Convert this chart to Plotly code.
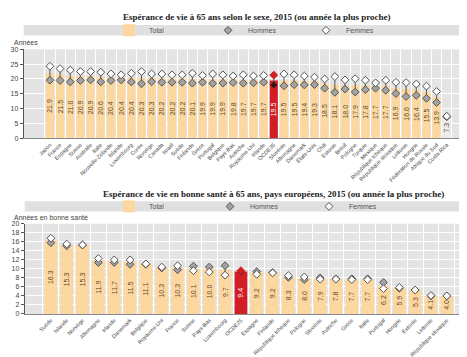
import plotly.graph_objects as go

# ---------- Data: chart 1 ----------
cats1 = ["Japon", "France", "Espagne", "Suisse", "Australie", "Italie", "Nouvelle-Zélande",
         "Islande", "Luxembourg", "Corée", "Norvège", "Canada", "Israël", "Suède", "Finlande",
         "Grèce", "Portugal", "Belgique", "Pays-Bas", "Autriche", "Royaume-Uni", "Irlande",
         "OCDE35", "Slovénie", "Allemagne", "Danemark", "États-Unis", "Chili", "Estonie",
         "Brésil", "Pologne", "Turquie", "Mexique", "République tchèque",
         "République slovaque", "Lettonie", "Hongrie", "Fédération de Russie",
         "Afrique du Sud", "Costa Rica"]
total1 = [21.9, 21.5, 21.0, 20.9, 20.9, 20.6, 20.4, 20.4, 20.4, 20.3, 20.3, 20.2, 20.2, 20.2,
          20.1, 19.9, 19.9, 19.9, 19.8, 19.7, 19.7, 19.7, 19.5, 19.5, 19.5, 19.4, 19.3, 18.5,
          18.1, 18.0, 17.9, 17.8, 17.7, 17.7, 16.9, 16.6, 16.4, 15.5, 13.9, 7.3]
men1 = [19.6, 19.5, 19.0, 19.5, 19.7, 19.0, 19.5, 19.7, 19.0, 18.4, 19.1, 18.9, 18.9, 18.9,
        18.6, 18.9, 18.5, 18.6, 18.8, 18.6, 18.7, 18.9, 18.0, 17.7, 18.1, 18.0, 18.1, 16.9,
        15.5, 16.6, 15.6, 16.4, 16.9, 16.2, 15.1, 14.1, 14.5, 13.5, 12.1, 7.3]
women1 = [24.3, 23.5, 23.0, 22.5, 22.5, 22.3, 21.7, 21.4, 21.9, 22.5, 21.7, 21.7, 21.4, 21.4,
          21.9, 21.2, 21.7, 21.4, 21.0, 21.4, 21.0, 21.2, 21.3, 21.7, 21.4, 21.0, 20.6, 20.0,
          20.8, 19.7, 20.1, 19.6, 18.7, 19.6, 18.9, 18.8, 18.3, 17.6, 15.8, 7.5]
yticks1 = [0, 5, 10, 15, 20, 25, 30]

# ---------- Data: chart 2 ----------
cats2 = ["Suède", "Islande", "Norvège", "Allemagne", "Irlande", "Danemark", "Belgique",
         "Royaume-Uni", "France", "Suisse", "Pays-Bas", "Luxembourg", "OCDE25", "Espagne",
         "Finlande", "République tchèque", "Pologne", "Slovénie", "Autriche", "Grèce",
         "Italie", "Portugal", "Hongrie", "Estonie", "Lettonie", "République slovaque"]
total2 = [16.3, 15.3, 15.3, 11.9, 11.7, 11.5, 11.1, 10.3, 10.3, 10.1, 10.0, 9.7, 9.4, 9.2,
          9.2, 8.3, 8.0, 7.9, 7.8, 7.7, 7.7, 6.2, 5.9, 5.3, 4.1, 4.0]
men2 = [15.8, 15.1, 15.3, 11.4, 11.4, 11.0, 11.0, 10.2, 9.8, 10.6, 10.4, 10.7, 9.3, 9.4,
        9.2, 8.1, 7.6, 8.0, 7.8, 7.8, 7.8, 7.0, 5.7, 5.3, 4.0, 4.0]
women2 = [16.8, 15.5, 15.3, 12.3, 12.0, 12.0, 11.1, 10.4, 10.7, 9.6, 9.3, 8.6, 9.6, 8.8,
          9.1, 8.5, 8.2, 7.7, 7.7, 7.6, 7.6, 5.6, 5.9, 5.3, 4.1, 4.0]
yticks2 = [0, 2, 4, 6, 8, 10, 12, 14, 16, 18, 20]

# ---------- Style ----------
W, H = 467, 357
BAR = "#fcd8a0"
RED = "#d21f26"
PLOT_BG = "#e4e4e4"
BAND = "#e0e0e0"
TXT = "#5a4a2e"
TICK = "#444444"
SANS = "Liberation Sans Narrow, Arial Narrow, Liberation Sans, sans-serif"
SERIF = "Liberation Serif, DejaVu Serif, serif"


def py(px):
    return 1 - px / H


def px_x(px):
    return px / W


fig = go.Figure()


def add_chart(cats, total, men, women, xa, ya, legs, oecd):
    bar_colors = [RED if c == oecd else ("#ececec" if c == "Costa Rica" else BAR) for c in cats]
    txt_colors = ["white" if c == oecd else TXT for c in cats]
    fig.add_trace(go.Bar(
        x=cats, y=total, name="Total", marker=dict(color=bar_colors, line=dict(width=0)),
        text=[f"{v:.1f}" for v in total], textposition="inside", textangle=-90,
        insidetextanchor="middle", constraintext="none",
        textfont=dict(size=7, color=txt_colors, family=SANS),
        xaxis=xa, yaxis=ya, legend=legs[0], showlegend=True, hoverinfo="x+y"))
    # connectors between men and women values
    lx, ly = [], []
    for c, m, f in zip(cats, men, women):
        lx += [c, c, None]
        ly += [m, f, None]
    fig.add_trace(go.Scatter(x=lx, y=ly, mode="lines", line=dict(color="#555555", width=1),
                             xaxis=xa, yaxis=ya, showlegend=False, hoverinfo="skip"))
    men_col = ["#a3a3a3" if c != oecd else "#2a1a1a" for c in cats]
    men_line = [RED if c == oecd else "#555555" for c in cats]
    wom_col = [RED if c == oecd else "white" for c in cats]
    wom_line = [RED if c == oecd else "#555555" for c in cats]
    fig.add_trace(go.Scatter(
        x=cats, y=men, mode="markers", name="Hommes",
        marker=dict(symbol="diamond", size=6, color=men_col, line=dict(color=men_line, width=1)),
        xaxis=xa, yaxis=ya, legend=legs[1]))
    fig.add_trace(go.Scatter(
        x=cats, y=women, mode="markers", name="Femmes",
        marker=dict(symbol="diamond", size=6, color=wom_col, line=dict(color=wom_line, width=1)),
        xaxis=xa, yaxis=ya, legend=legs[2]))


add_chart(cats1, total1, men1, women1, "x", "y", ["legend", "legend2", "legend3"], "OCDE35")
add_chart(cats2, total2, men2, women2, "x2", "y2", ["legend4", "legend5", "legend6"], "OCDE25")

xcommon = dict(type="category", tickangle=-45, tickfont=dict(size=5.5, color=TICK, family=SANS),
               showgrid=True, gridcolor="white", gridwidth=1, tickson="boundaries",
               ticks="", showline=True, linecolor="#888888", linewidth=1, fixedrange=True)
ycommon = dict(tickfont=dict(size=7, color=TICK, family=SANS), showgrid=True,
               gridcolor="white", gridwidth=1, zeroline=False, showline=True,
               linecolor="#555555", linewidth=1, ticks="outside", ticklen=3,
               tickcolor="#555555", fixedrange=True)

legcommon = dict(orientation="h", xanchor="left", yanchor="middle", bgcolor="rgba(0,0,0,0)",
                 font=dict(size=7, color="#555555", family=SANS),
                 itemsizing="trace", itemwidth=30, borderwidth=0,
                 itemclick=False, itemdoubleclick=False)

# legend left edges (px) for Total / Hommes / Femmes in both panels
leg_top_y, leg_bot_y = 18.7, 198.3
leg_x = [101, 200, 298]

fig.update_layout(
    width=W, height=H, margin=dict(l=0, r=0, t=0, b=0),
    paper_bgcolor="white", plot_bgcolor=PLOT_BG, bargap=0.2,
    xaxis=dict(domain=[px_x(15.7), px_x(465)], anchor="y", **xcommon),
    yaxis=dict(domain=[py(129), py(38)], anchor="x", range=[0, 30], tickvals=yticks1, **ycommon),
    xaxis2=dict(domain=[px_x(16.7), px_x(465)], anchor="y2", **xcommon),
    yaxis2=dict(domain=[py(308), py(216)], anchor="x2", range=[0, 20], tickvals=yticks2, **ycommon),
    legend=dict(x=px_x(leg_x[0]), y=py(leg_top_y), **legcommon),
    legend2=dict(x=px_x(leg_x[1]), y=py(leg_top_y), **legcommon),
    legend3=dict(x=px_x(leg_x[2]), y=py(leg_top_y), **legcommon),
    legend4=dict(x=px_x(leg_x[0]), y=py(leg_bot_y), **legcommon),
    legend5=dict(x=px_x(leg_x[1] + 2), y=py(leg_bot_y), **legcommon),
    legend6=dict(x=px_x(leg_x[2] + 3), y=py(leg_bot_y), **legcommon),
    shapes=[
        dict(type="rect", xref="paper", yref="paper", x0=px_x(15.7), x1=px_x(465),
             y0=py(24), y1=py(13.3), fillcolor=BAND, line=dict(width=0), layer="below"),
        dict(type="rect", xref="paper", yref="paper", x0=px_x(16.7), x1=px_x(465),
             y0=py(203.5), y1=py(193), fillcolor=BAND, line=dict(width=0), layer="below"),
    ],
    annotations=[
        dict(text="<b>Espérance de vie à 65 ans selon le sexe, 2015 (ou année la plus proche)</b>",
             xref="paper", yref="paper", x=px_x(249), y=py(5.5), showarrow=False,
             font=dict(size=9, family=SERIF, color="#222222"), xanchor="center", yanchor="middle"),
        dict(text="<b>Espérance de vie en bonne santé à 65 ans, pays européens, 2015 (ou année la plus proche)</b>",
             xref="paper", yref="paper", x=px_x(265), y=py(185.5), showarrow=False,
             font=dict(size=9, family=SERIF, color="#222222"), xanchor="center", yanchor="middle"),
        dict(text="Années", xref="paper", yref="paper", x=px_x(4), y=py(31), showarrow=False,
             font=dict(size=7, family=SANS, color=TICK), xanchor="left", yanchor="middle"),
        dict(text="Années en bonne santé", xref="paper", yref="paper", x=px_x(4), y=py(210),
             showarrow=False, font=dict(size=7, family=SANS, color=TICK),
             xanchor="left", yanchor="middle"),
    ],
)

fig.write_html("out.html")
